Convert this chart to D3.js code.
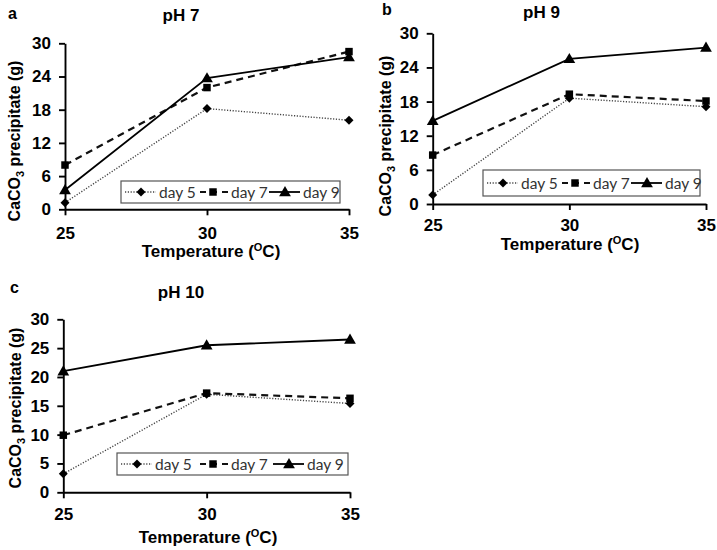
<!DOCTYPE html>
<html>
<head>
<meta charset="utf-8">
<script src="https://cdn.jsdelivr.net/npm/d3@7"></script>
<style>
  html, body { margin: 0; padding: 0; background: #fff; }
  svg { display: block; }
  .bold { font-family: "Liberation Sans", Arial, sans-serif; font-weight: bold; fill: #000; }
  .leg { font-family: Lato, "Open Sans", sans-serif; font-size: 15.5px; fill: #333; }
</style>
</head>
<body>
<svg id="chart" width="717" height="550"></svg>
<script>
// ---------------- data ----------------
const temps = [25, 30, 35];
const seriesNames = ["day 5", "day 7", "day 9"];
const panelTitles = ["pH 7", "pH 9", "pH 10"];
const panelLetters = ["a", "b", "c"];

const pH7_day5 = [1.2, 18.2, 16.1];
const pH7_day7 = [8.0, 22.0, 28.5];
const pH7_day9 = [3.5, 23.7, 27.5];

const pH9_day5 = [1.6, 18.6, 17.1];
const pH9_day7 = [8.6, 19.3, 18.1];
const pH9_day9 = [14.6, 25.5, 27.5];

const pH10_day5 = [3.2, 17.0, 15.4];
const pH10_day7 = [9.9, 17.2, 16.3];
const pH10_day9 = [21.0, 25.5, 26.5];

const yTicksA = [0, 6, 12, 18, 24, 30];
const yTicksB = [0, 6, 12, 18, 24, 30];
const yTicksC = [0, 5, 10, 15, 20, 25, 30];

// ---------------- layout / styles ----------------
const svg = d3.select("#chart");

const seriesStyle = [
  { dash: "1.2,1.6", width: 1.4, color: "#444", marker: "diamond" },
  { dash: "7,5", width: 2.2, color: "#111", marker: "square" },
  { dash: null, width: 1.8, color: "#000", marker: "triangle" }
];

const panels = [
  { series: [pH7_day5, pH7_day7, pH7_day9], yTicks: yTicksA,
    left: 65, right: 349, top: 43.3, bottom: 209.3, xPad: 12,
    title: { x: 181, y: 21 }, letter: { x: 8, y: 19 },
    ylab: { x: 14, y: 141 }, xlab: { x: 211, y: 257 },
    legend: { x: 121, y: 181, w: 219, h: 22, step: 72 } },
  { series: [pH9_day5, pH9_day7, pH9_day9], yTicks: yTicksB,
    left: 432.7, right: 706, top: 33.3, bottom: 204, xPad: 9,
    title: { x: 541.5, y: 18 }, letter: { x: 382, y: 15 },
    ylab: { x: 385, y: 136 }, xlab: { x: 570, y: 250 },
    legend: { x: 483, y: 170, w: 217, h: 26, step: 72 } },
  { series: [pH10_day5, pH10_day7, pH10_day9], yTicks: yTicksC,
    left: 63.3, right: 350, top: 319.3, bottom: 492.3, xPad: 10,
    title: { x: 181, y: 298 }, letter: { x: 10, y: 293 },
    ylab: { x: 15, y: 408 }, xlab: { x: 208, y: 543 },
    legend: { x: 117, y: 453, w: 231, h: 22, step: 76 } }
];

function markerPath(type) {
  if (type === "diamond") return d3.symbol(d3.symbolSquare, 40)();
  if (type === "square") return d3.symbol(d3.symbolSquare, 56)();
  return d3.symbol(d3.symbolTriangle, 60)();
}
function markerTransform(type, cx, cy) {
  if (type === "diamond") return `translate(${cx},${cy}) rotate(45)`;
  if (type === "triangle") return `translate(${cx},${cy + 0.8})`;
  return `translate(${cx},${cy})`;
}

panels.forEach((p, pi) => {
  const g = svg.append("g");
  const x = d3.scaleLinear().domain([25, 35]).range([p.left, p.right]);
  const y = d3.scaleLinear().domain([0, 30]).range([p.bottom, p.top]);

  // axes
  const yAxis = d3.axisLeft(y).tickValues(p.yTicks).tickSize(6).tickSizeOuter(0).tickPadding(8);
  const xAxis = d3.axisBottom(x).tickValues(temps).tickSize(6).tickSizeOuter(0).tickPadding(p.xPad);

  const gy = g.append("g").attr("transform", `translate(${p.left},0)`).call(yAxis);
  const gx = g.append("g").attr("transform", `translate(0,${p.bottom})`).call(xAxis);
  [gx, gy].forEach(a => {
    a.select(".domain").attr("stroke", "#000").attr("stroke-width", 1.9);
    a.selectAll(".tick line").attr("stroke", "#000").attr("stroke-width", 1.9);
    a.selectAll(".tick text").attr("class", "bold").style("font-size", "17px").attr("fill", "#000");
  });

  // lines
  const line = d3.line().x((d, i) => x(temps[i])).y(d => y(d));
  p.series.forEach((vals, si) => {
    const st = seriesStyle[si];
    g.append("path").datum(vals).attr("d", line)
      .attr("fill", "none").attr("stroke", st.color).attr("stroke-width", st.width)
      .attr("stroke-dasharray", st.dash);
  });
  p.series.forEach((vals, si) => {
    const st = seriesStyle[si];
    g.selectAll(null).data(vals).enter().append("path")
      .attr("d", markerPath(st.marker))
      .attr("transform", (d, i) => markerTransform(st.marker, x(temps[i]), y(d)))
      .attr("fill", "#000");
  });

  // legend
  const L = p.legend;
  const lg = g.append("g");
  lg.append("rect").attr("x", L.x).attr("y", L.y).attr("width", L.w).attr("height", L.h)
    .attr("fill", "#fff").attr("stroke", "#555").attr("stroke-width", 1.2);
  seriesNames.forEach((name, si) => {
    const st = seriesStyle[si];
    const sx = L.x + 4 + si * L.step;
    const cy = L.y + L.h / 2;
    lg.append("line").attr("x1", si === 1 ? sx + 3 : sx).attr("x2", sx + 31).attr("y1", cy).attr("y2", cy)
      .attr("stroke", st.color).attr("stroke-width", st.width)
      .attr("stroke-dasharray", si === 1 ? "6,5" : st.dash);
    lg.append("path").attr("d", markerPath(st.marker))
      .attr("transform", markerTransform(st.marker, sx + 16, cy)).attr("fill", "#000");
    lg.append("text").attr("class", "leg").attr("x", sx + 34).attr("y", cy + 5.5).text(name);
  });

  // titles
  g.append("text").attr("class", "bold").style("font-size", "17px")
    .attr("x", p.title.x).attr("y", p.title.y).attr("text-anchor", "middle").text(panelTitles[pi]);
  g.append("text").attr("class", "bold").style("font-size", "16px")
    .attr("x", p.letter.x).attr("y", p.letter.y).text(panelLetters[pi]);

  // y label
  const yl = g.append("text").attr("class", "bold").style("font-size", "16px")
    .attr("text-anchor", "middle")
    .attr("transform", `translate(${p.ylab.x + 6},${p.ylab.y}) rotate(-90)`);
  yl.append("tspan").text("CaCO");
  yl.append("tspan").text("3").style("font-size", "11px").attr("dy", 4);
  yl.append("tspan").text(" precipitate (g)").attr("dy", -4);

  // x label
  const xl = g.append("text").attr("class", "bold").style("font-size", "17px")
    .attr("x", p.xlab.x).attr("y", p.xlab.y).attr("text-anchor", "middle");
  xl.append("tspan").text("Temperature (");
  xl.append("tspan").text("O").style("font-size", "11px").attr("dy", -6);
  xl.append("tspan").text("C)").attr("dy", 6);
});
</script>
</body>
</html>
